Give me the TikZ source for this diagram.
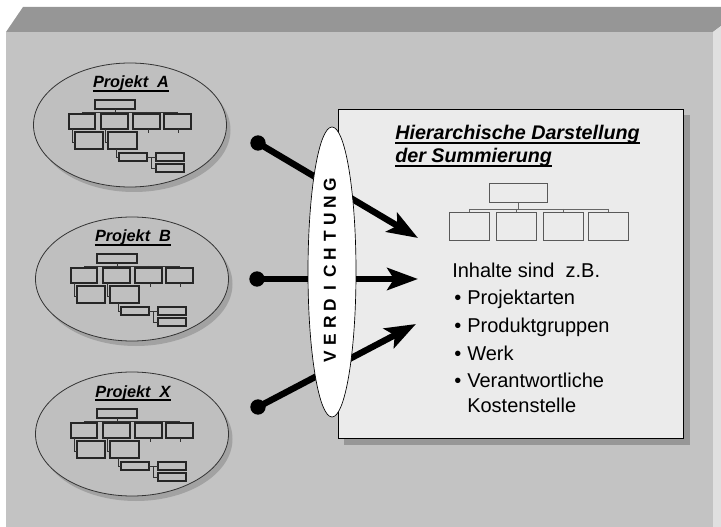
\documentclass[tikz,border=0pt]{standalone}
\usepackage{fontspec}
\setmainfont{Liberation Sans}
\usetikzlibrary{arrows.meta,shapes.geometric}

\definecolor{slabfront}{HTML}{C3C3C3}
\definecolor{slabtop}{HTML}{969696}
\definecolor{slabside}{HTML}{E0E0E0}
\definecolor{ovalfill}{HTML}{BFBFBF}
\definecolor{shadowgrey}{HTML}{A2A2A2}
\definecolor{panelshadow}{HTML}{979797}
\definecolor{panelfill}{HTML}{EBEBEB}

\tikzset{
  chartbox/.style={draw=black!85, line width=0.95pt},
  chartline/.style={draw=black!80, line width=0.6pt},
  projoval/.style={ellipse, draw=black!80, line width=0.6pt, fill=ovalfill,
    minimum width=144.75pt, minimum height=93pt, inner sep=0pt},
  ovalshadow/.style={ellipse, fill=shadowgrey,
    minimum width=144.75pt, minimum height=93pt, inner sep=0pt},
  projtitle/.style={anchor=base, inner sep=0pt,
    font=\bfseries\itshape\fontsize{12.2}{14}\selectfont},
  underrule/.style={line width=1.1pt, draw=black},
  dotnode/.style={circle, fill=black, minimum size=11.5pt, inner sep=0pt},
  fatarrow/.style={line width=4.8pt, draw=black,
    -{Stealth[length=23pt, width=16.5pt, inset=5pt]}},
  sumbox/.style={draw=black!65, line width=0.75pt},
  sumline/.style={draw=black!60, line width=0.6pt},
  bodytext/.style={anchor=base west, inner sep=0pt, font=\fontsize{15}{18}\selectfont},
  headtext/.style={anchor=base west, inner sep=0pt,
    font=\bfseries\itshape\fontsize{14.8}{17}\selectfont},
  vletter/.style={rotate=90, inner sep=0pt, font=\bfseries\fontsize{13}{15}\selectfont}
}

% small organisation chart, drawn around the centre of a project oval
\newcommand\minichart{%
  \draw[chartbox] (-35,-25) rectangle (5,-16);
  \draw[chartline] (-15,-16) -- (-15,-13);
  \draw[chartline] (-48,-13) -- (47.5,-13);
  \foreach \cx in {-48,-15.5,16.5,47.5} \draw[chartline] (\cx,-13) -- (\cx,-11);
  \draw[chartbox] (-61,-11) rectangle (-35,4);
  \draw[chartbox] (-29,-11) rectangle (-2,4);
  \draw[chartbox] (3,-11) rectangle (30,4);
  \draw[chartbox] (34,-11) rectangle (61,4);
  \draw[chartline] (18,4) -- (18,8);
  \draw[chartline] (48,4) -- (48,8);
  \draw[chartbox] (-55,7) rectangle (-27,24);
  \draw[chartbox] (-22,7) rectangle (7,24);
  \draw[chartline] (-58,4) -- (-58,17) -- (-55,17);
  \draw[chartline] (-25,4) -- (-25,17) -- (-22,17);
  \draw[chartbox] (-11,28) rectangle (17,36);
  \draw[chartline] (-14,24) -- (-14,32) -- (-11,32);
  \draw[chartbox] (26,28) rectangle (54,36);
  \draw[chartbox] (26,39) rectangle (54,47);
  \draw[chartline] (17,32) -- (26,32);
  \draw[chartline] (21,32) -- (21,43) -- (26,43);
}

\begin{document}
\begin{tikzpicture}[x=0.75pt, y=-0.75pt]
  \useasboundingbox (0,0) rectangle (721,527);

  % the grey slab behind everything
  \fill[slabtop] (6,32) -- (23,7) -- (721,7) -- (721,26) -- (713,32) -- cycle;
  \fill[slabfront] (6,32) rectangle (713,527);
  \fill[slabside] (713,32) -- (721,26) -- (721,527) -- (713,527) -- cycle;

  % project ovals with their charts
  \foreach \nm/\px/\py/\lab in {projA/130/125/A, projB/132/279/B, projX/132/434/X}{
    \node[ovalshadow] at (\px+4,\py+5) {};
    \node[projoval] (\nm) at (\px,\py) {};
    \begin{scope}[shift={(\px,\py)}]
      \node[projtitle] (\nm-title) at (1,-37) {Projekt\ \ \lab};
      \draw[underrule] ([yshift=-2.2pt]\nm-title.base west) -- ([yshift=-2.2pt]\nm-title.base east);
      \minichart
    \end{scope}
  }

  % summary panel
  \fill[panelshadow] (344,115) rectangle (690,445);
  \node[draw=black, line width=0.8pt, fill=panelfill, anchor=north west,
        minimum width=258.75pt, minimum height=246.75pt, inner sep=0pt]
        (panel) at (338,109) {};

  \node[headtext] (head1) at (395,140) {Hierarchische Darstellung\ };
  \node[headtext] (head2) at (395,163) {der Summierung};
  \draw[underrule] ([yshift=-2.2pt]head1.base west) -- ([yshift=-2.2pt]head1.base east);
  \draw[underrule] ([yshift=-2.2pt]head2.base west) -- ([yshift=-2.2pt]head2.base east);

  % summary chart
  \draw[sumbox] (489,184) rectangle (547,203);
  \draw[sumline] (518,203) -- (518,209);
  \draw[sumline] (469,209) -- (608,209);
  \foreach \cx in {469,516,563,608} \draw[sumline] (\cx,209) -- (\cx,213);
  \draw[sumbox] (449,213) rectangle (489,241);
  \draw[sumbox] (496,213) rectangle (536,241);
  \draw[sumbox] (543,213) rectangle (583,241);
  \draw[sumbox] (588,213) rectangle (628,241);

  \node[bodytext] (intro) at (452,278) {Inhalte sind\ \ z.B.};
  \foreach \nm/\yy/\txt in {it1/305/Projektarten, it2/333/Produktgruppen,
                            it3/360/Werk, it4/387/Verantwortliche}{
    \node[bodytext] (\nm-b) at (454,\yy) {\textbullet};
    \node[bodytext] (\nm) at (467,\yy) {\txt};
  }
  \node[bodytext] (it5) at (467,412) {Kostenstelle};

  % connecting arrows
  \node[dotnode] (dotA) at (258,143) {};
  \node[dotnode] (dotB) at (257,279) {};
  \node[dotnode] (dotX) at (258,407) {};
  \coordinate (tipA) at (418,238);
  \coordinate (tipB) at (418,279);
  \coordinate (tipX) at (416,324);
  \draw[fatarrow] (dotA.center) -- (tipA);
  \draw[fatarrow] (dotB.center) -- (tipB);
  \draw[fatarrow] (dotX.center) -- (tipX);

  % compression lens
  \node[ellipse, draw=black, line width=0.5pt, fill=white,
        minimum width=36pt, minimum height=217.5pt, inner sep=0pt]
        (lens) at (332,272) {};
  \foreach \ch [count=\i] in {V,E,R,D,I,C,H,T,U,N,G}
    \node[vletter] (vl\i) at (330,357-17.2*\i+17.2) {\ch};
\end{tikzpicture}
\end{document}
